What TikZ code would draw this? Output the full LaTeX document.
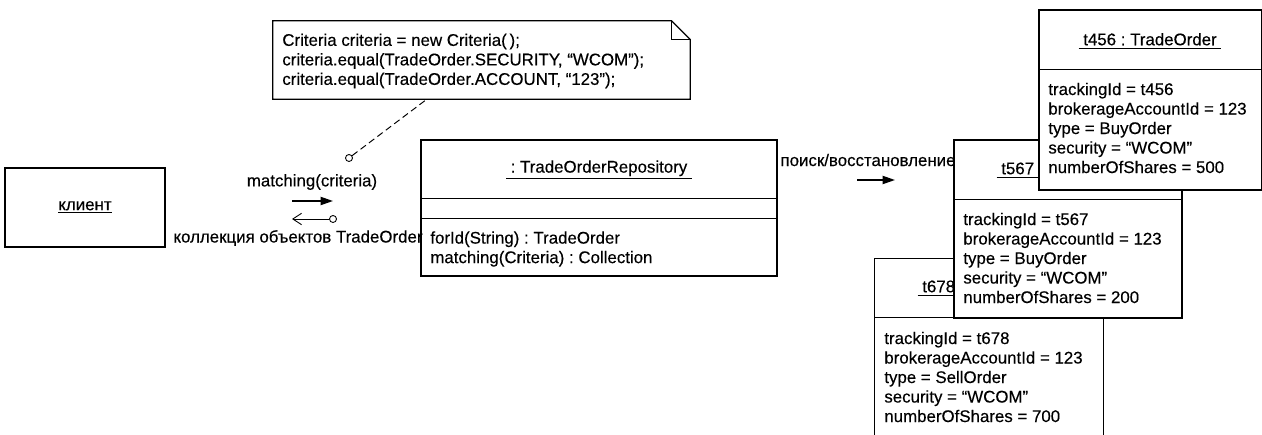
\documentclass[tikz,border=0pt]{standalone}
\usepackage{fontspec}
\setmainfont{Liberation Sans}[UprightFeatures={FakeBold=0.3}]
\usepackage{tikz}
\usetikzlibrary{arrows.meta, positioning, calc}
\frenchspacing

\begin{document}
\begin{tikzpicture}[x=0.02cm, y=-0.02cm,
        every node/.style={font=\fontsize{9.6}{11.1}\selectfont},
        objbox/.style={rectangle, draw, fill=white, line width=0.7pt, inner sep=0pt},
        edge/.style={draw, line width=0.7pt},
        ttl/.style={inner sep=0pt},
        attrs/.style={anchor=west, align=left, inner sep=0pt},
        lbl/.style={inner sep=0pt},
        msg/.style={draw, -{Triangle[length=7pt, width=4.6pt]}, line width=0.9pt},
        ret/.style={draw, -{Straight Barb[length=5pt, width=6.5pt]}, line width=0.5pt},
        endring/.style={circle, draw, fill=white, line width=0.5pt, inner sep=0pt, minimum size=0.14cm},
        noteline/.style={draw, line width=0.55pt, dash pattern=on 3.8pt off 2.2pt}
        ]

        \useasboundingbox (0,0) rectangle (1262,435);

        %% Client
        \node[objbox, minimum width=3.2cm, minimum height=1.58cm] (client) at (85,207.5) {\underline{клиент}};

        %% Repository object
        \node[objbox, minimum width=7.12cm, minimum height=2.72cm] (repo) at (599,208) {};
        \draw[edge] ($(repo.north west)+(0,59)$) -- ($(repo.north east)+(0,59)$);
        \draw[edge] ($(repo.north west)+(0,79)$) -- ($(repo.north east)+(0,79)$);
        \node[ttl] (repottl) at (599,170) {\underline{\ : TradeOrderRepository\ }};
        \node[attrs] (repoops) at (430,249) {forId(String) : TradeOrder\\matching(Criteria) : Collection};

        %% Note with folded corner
        \node[minimum width=8.34cm, minimum height=1.56cm, inner sep=0pt] (note) at (481.5,60) {};
        \draw[edge, fill=white] (note.south west) -- (note.north west) -- ($(note.north east)+(-19,0)$)
            -- ($(note.north east)+(0,19)$) -- (note.south east) -- cycle;
        \draw[edge] ($(note.north east)+(-19,0)$) -- ($(note.north east)+(-19,19)$) -- ($(note.north east)+(0,19)$);
        \node[attrs] (notetxt) at (282,61) {Criteria criteria = new Criteria(\,);\\criteria.equal(TradeOrder.SECURITY, “WCOM”);\\criteria.equal(TradeOrder.ACCOUNT, “123”);};

        %% Note attached to the call
        \node[endring] (ring) at (349,158) {};
        \draw[noteline] (ring) -- ($(note.south west)+(154,0)$);

        %% Call and result
        \coordinate (m1a) at (292,201);
        \coordinate (m1b) at (333,201);
        \draw[msg] (m1a) -- (m1b);
        \node[lbl] (m1lbl) at (312,182) {matching(criteria)};
        \node[endring] (r1ring) at (333,219) {};
        \coordinate (r1b) at (292,219);
        \draw[ret] (r1ring) -- (r1b);
        \node[lbl] (r1lbl) at (298,238) {коллекция объектов TradeOrder};

        %% Lookup message
        \node[lbl] (srchlbl) at (868,160) {поиск/восстановление};
        \coordinate (s1a) at (857,180);
        \coordinate (s1b) at (895,180);
        \draw[msg] (s1a) -- (s1b);

        %% ---- t678 (back) ----
        \node[minimum width=4.56cm, minimum height=3.52cm, inner sep=0pt] (t678) at (989,347) {};
        \draw[edge] (t678.south west) -- (t678.north west) -- (t678.north east) -- (t678.south east);
        \draw[edge] ($(t678.north west)+(0,59)$) -- ($(t678.north east)+(0,59)$);
        \node[ttl] (t678ttl) at (989,288) {\underline{\ t678 : TradeOrder\ }};
        \node[attrs] (t678att) at (884,377) {trackingId = t678\\brokerageAccountId = 123\\type = SellOrder\\security = “WCOM”\\numberOfShares = 700};

        %% ---- t567 (middle) ----
        \node[objbox, minimum width=4.56cm, minimum height=3.56cm] (t567) at (1068,229) {};
        \draw[edge] ($(t567.north west)+(0,60)$) -- ($(t567.north east)+(0,60)$);
        \node[ttl] (t567ttl) at (1068,170) {\underline{\ t567 : TradeOrder\ }};
        \node[attrs] (t567att) at (963,258) {trackingId = t567\\brokerageAccountId = 123\\type = BuyOrder\\security = “WCOM”\\numberOfShares = 200};

        %% ---- t456 (front) ----
        \node[objbox, minimum width=4.45cm, minimum height=3.6cm] (t456) at (1150.25,100) {};
        \draw[edge] ($(t456.north west)+(0,60)$) -- ($(t456.north east)+(0,60)$);
        \node[ttl] (t456ttl) at (1150,41) {\underline{\ t456 : TradeOrder\ }};
        \node[attrs] (t456att) at (1048,128) {trackingId = t456\\brokerageAccountId = 123\\type = BuyOrder\\security = “WCOM”\\numberOfShares = 500};

    \end{tikzpicture}
\end{document}
